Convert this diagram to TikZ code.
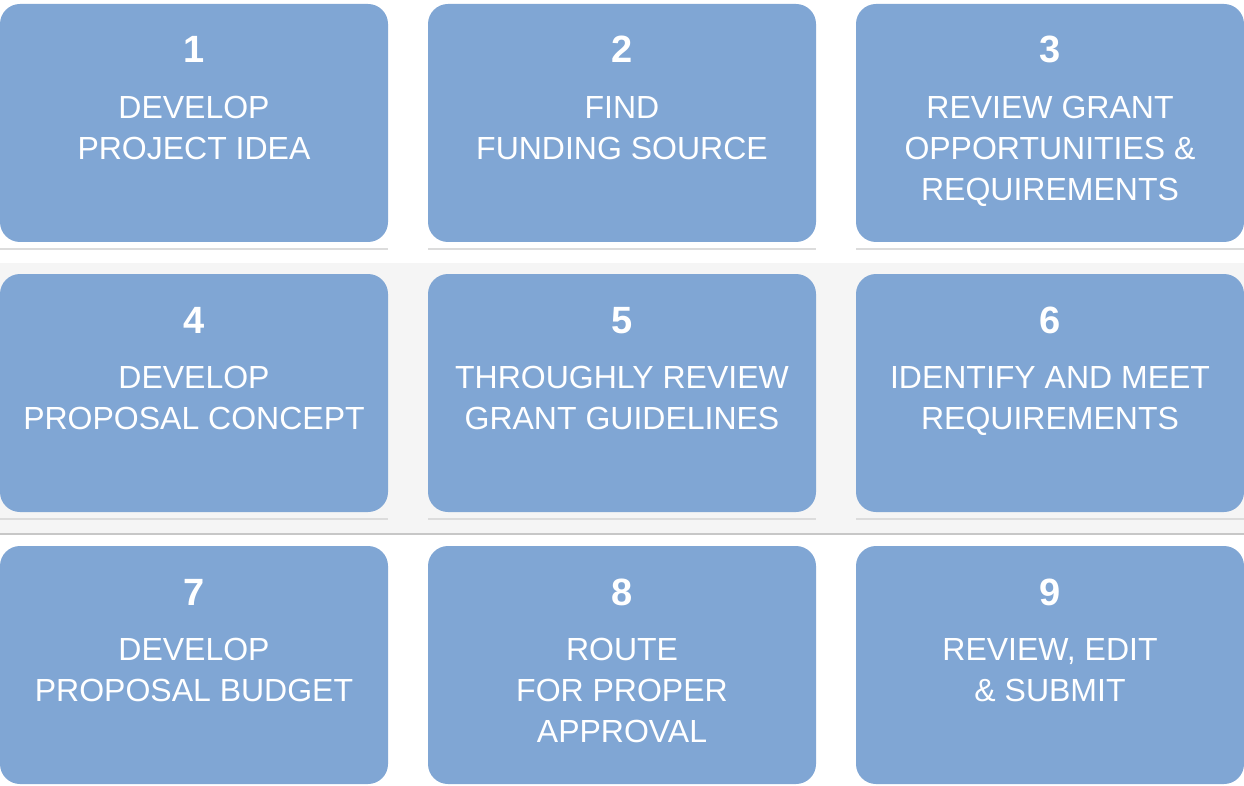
\documentclass[tikz,border=0pt]{standalone}
\usepackage{fontspec}
\setmainfont{Liberation Sans}
\begin{document}
\begin{tikzpicture}[x=1pt,y=-1pt,
  card/.style={fill=cardblue,draw=none,rounded corners=20pt},
  num/.style={text=white,font=\fontsize{38}{40}\selectfont\bfseries,anchor=base,inner sep=0},
  lbl/.style={text=white,font=\fontsize{32}{41}\selectfont,align=center,anchor=north,inner sep=0},
  rule/.style={draw=rulegray,line width=1.5pt}]
\definecolor{cardblue}{HTML}{80A6D4}
\definecolor{rulegray}{HTML}{DCDCDC}
\definecolor{bandgray}{HTML}{F5F5F5}
\useasboundingbox (0,0) rectangle (1244,786);
\fill[white] (0,0) rectangle (1244,786);
\fill[bandgray] (0,263) rectangle (1244,533);
\draw[draw=black!22,line width=1.5pt] (0,534) -- (1244,534);
\foreach \c/\xx in {0/0,1/428,2/856}{
  \foreach \r/\yy in {0/4,1/274,2/546}{
    \fill[card] (\xx,\yy) rectangle ++(388,238);
  }
  \draw[rule] (\xx,249) -- ++(388,0);
  \draw[rule] (\xx,519) -- ++(388,0);
}
\node[num] (n1) at (194,63) {1};
\node[num] (n2) at (622,63) {2};
\node[num] (n3) at (1050,63) {3};
\node[num] (n4) at (194,333) {4};
\node[num] (n5) at (622,333) {5};
\node[num] (n6) at (1050,333) {6};
\node[num] (n7) at (194,605) {7};
\node[num] (n8) at (622,605) {8};
\node[num] (n9) at (1050,605) {9};
\node[lbl] (t1) at (194,96) {DEVELOP\\PROJECT IDEA};
\node[lbl] (t2) at (622,96) {FIND\\FUNDING SOURCE};
\node[lbl] (t3) at (1050,96) {REVIEW GRANT\\OPPORTUNITIES \&\\REQUIREMENTS};
\node[lbl] (t4) at (194,366) {DEVELOP\\PROPOSAL CONCEPT};
\node[lbl] (t5) at (622,366) {THROUGHLY REVIEW\\GRANT GUIDELINES};
\node[lbl] (t6) at (1050,366) {IDENTIFY AND MEET\\REQUIREMENTS};
\node[lbl] (t7) at (194,638) {DEVELOP\\PROPOSAL BUDGET};
\node[lbl] (t8) at (622,638) {ROUTE\\FOR PROPER\\APPROVAL};
\node[lbl] (t9) at (1050,638) {REVIEW, EDIT\\\& SUBMIT};
\end{tikzpicture}
\end{document}
